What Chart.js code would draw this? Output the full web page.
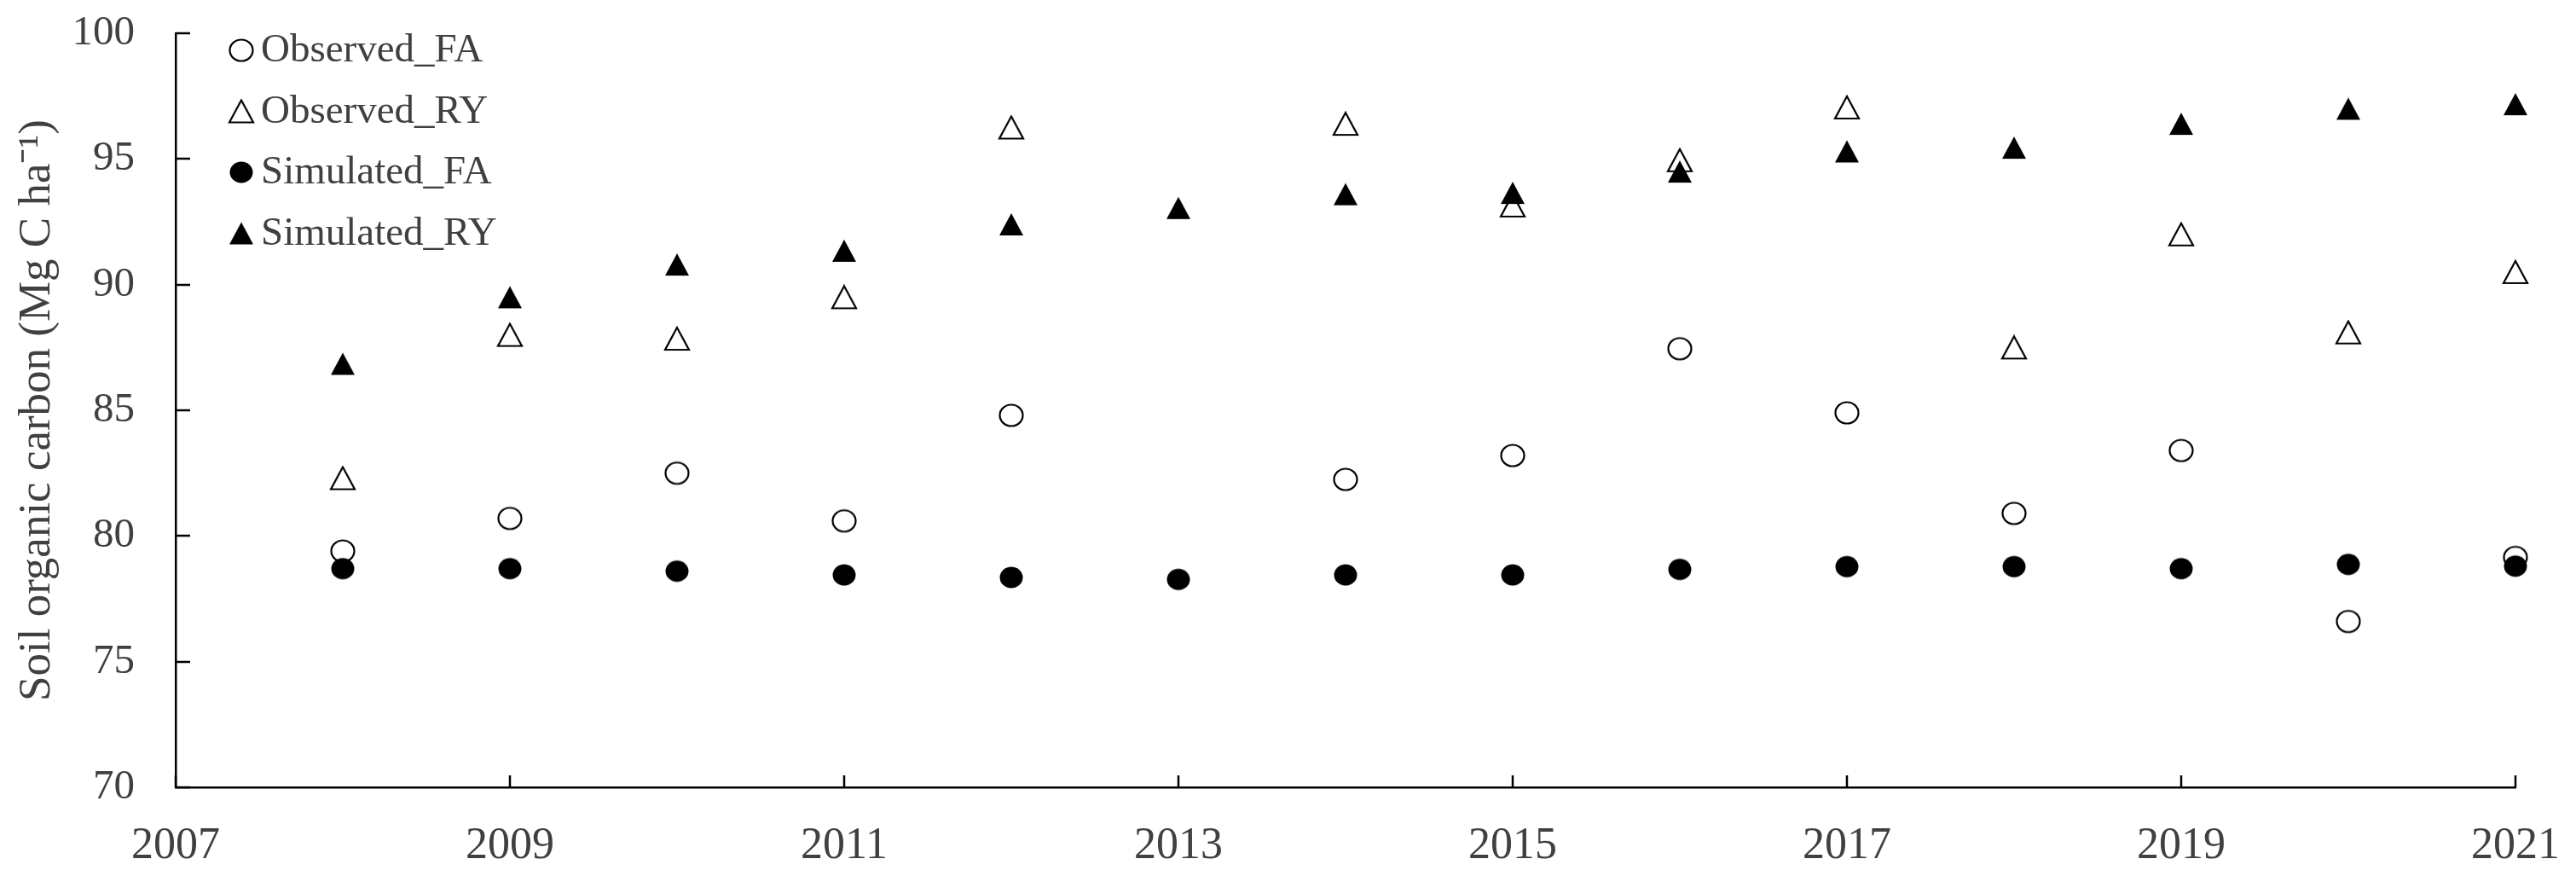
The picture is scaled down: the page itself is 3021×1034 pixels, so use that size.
<!DOCTYPE html>
<html lang="en">
  <head>
    <meta charset="UTF-8" />
    <title>Soil organic carbon</title>
    <script src="https://cdn.jsdelivr.net/npm/chart.js@4.4.1/dist/chart.umd.min.js"></script>
    <style>
      body { margin: 0; background: #ffffff; }
    </style>
  </head>
  <body>
    <canvas id="myChart" width="3021" height="1034"></canvas>
    <script>
      var years = [2008, 2009, 2010, 2011, 2012, 2013, 2014, 2015, 2016, 2017, 2018, 2019, 2020, 2021];
      var observedFA = [79.4, 80.7, 82.5, 80.6, 84.8, null, 82.25, 83.2, 87.45, 84.9, 80.9, 83.4, 76.6, 79.15];
      var observedRY = [82.3, 88.0, 87.85, 89.5, 96.25, null, 96.4, 93.15, 94.95, 97.05, 87.5, 92.0, 88.1, 90.5];
      var simulatedFA = [78.7, 78.7, 78.6, 78.45, 78.35, 78.27, 78.45, 78.45, 78.67, 78.78, 78.78, 78.7, 78.87, 78.8];
      var simulatedRY = [86.85, 89.5, 90.8, 91.35, 92.4, 93.05, 93.6, 93.65, 94.5, 95.3, 95.45, 96.4, 97.0, 97.18];

      var xTicks = [2007, 2009, 2011, 2013, 2015, 2017, 2019, 2021];
      var yTicks = [70, 75, 80, 85, 90, 95, 100];

      var textColor = "#404040";
      var serif = "'Liberation Serif', 'Times New Roman', serif";

      // marcatori disegnati a mano, centrati sul loro riquadro come in Excel
      function makeMarker(shape, filled) {
        var c = document.createElement("canvas");
        c.width = 32;
        c.height = 30;
        var g = c.getContext("2d");
        g.beginPath();
        if (shape === "circle") {
          g.ellipse(16, 15, 13.5, 12.5, 0, 0, Math.PI * 2);
        } else {
          g.moveTo(16, 2);
          g.lineTo(30, 28);
          g.lineTo(2, 28);
          g.closePath();
        }
        if (filled) {
          g.fillStyle = "#000000";
          g.fill();
        } else {
          g.fillStyle = "#ffffff";
          g.fill();
          g.lineWidth = 2.2;
          g.strokeStyle = "#000000";
          g.stroke();
        }
        return c;
      }

      function toPoints(values) {
        var out = [];
        for (var i = 0; i < years.length; i++) {
          if (values[i] !== null) out.push({ x: years[i], y: values[i] });
        }
        return out;
      }

      // tacche interne sugli assi
      var innerTicks = {
        id: "innerTicks",
        afterDraw: function (chart) {
          var ctx = chart.ctx;
          var xs = chart.scales.x;
          var ys = chart.scales.y;
          var area = chart.chartArea;
          ctx.save();
          ctx.strokeStyle = "#000000";
          ctx.lineWidth = 2.5;
          ctx.beginPath();
          xs.ticks.forEach(function (t) {
            var px = Math.round(xs.getPixelForValue(t.value));
            ctx.moveTo(px, area.bottom);
            ctx.lineTo(px, area.bottom - 14);
          });
          ys.ticks.forEach(function (t) {
            var py = Math.round(ys.getPixelForValue(t.value));
            ctx.moveTo(area.left, py);
            ctx.lineTo(area.left + 17, py);
          });
          ctx.stroke();
          ctx.restore();
        },
      };

      // legenda dentro il grafico, in alto a sinistra
      var innerLegend = {
        id: "innerLegend",
        afterDraw: function (chart) {
          var ctx = chart.ctx;
          ctx.save();
          ctx.font = "47px " + serif;
          ctx.fillStyle = textColor;
          ctx.textBaseline = "alphabetic";
          chart.data.datasets.forEach(function (ds, i) {
            var img = ds.pointStyle;
            var cy = 59 + i * 71.5;
            ctx.drawImage(img, 283 - img.width / 2, cy - img.height / 2);
            ctx.fillText(ds.label, 306, 72 + i * 71.5);
          });
          ctx.restore();
        },
      };

      var ctx = document.getElementById("myChart").getContext("2d");

      new Chart(ctx, {
        type: "scatter",
        data: {
          datasets: [
            { label: "Observed_FA", data: toPoints(observedFA), pointStyle: makeMarker("circle", false), order: 1, clip: false },
            { label: "Observed_RY", data: toPoints(observedRY), pointStyle: makeMarker("triangle", false), order: 1, clip: false },
            { label: "Simulated_FA", data: toPoints(simulatedFA), pointStyle: makeMarker("circle", true), order: 0, clip: false },
            { label: "Simulated_RY", data: toPoints(simulatedRY), pointStyle: makeMarker("triangle", true), order: 0, clip: false },
          ],
        },
        options: {
          responsive: false,
          animation: false,
          events: [],
          layout: { padding: { top: 39, right: 71, bottom: 0, left: 0 } },
          plugins: {
            legend: { display: false },
            tooltip: { enabled: false },
          },
          scales: {
            x: {
              type: "linear",
              min: xTicks[0],
              max: xTicks[xTicks.length - 1],
              afterBuildTicks: function (scale) {
                scale.ticks = xTicks.map(function (v) { return { value: v }; });
              },
              afterFit: function (scale) {
                scale.height = 111;
                scale.paddingLeft = 0;
                scale.paddingRight = 0;
              },
              grid: { display: false, drawTicks: false },
              border: { display: true, color: "#000000", width: 2.5 },
              ticks: {
                padding: 38,
                color: textColor,
                font: { family: serif, size: 52 },
                maxRotation: 0,
                callback: function (v) { return String(v); },
              },
            },
            y: {
              min: yTicks[0],
              max: yTicks[yTicks.length - 1],
              afterBuildTicks: function (scale) {
                scale.ticks = yTicks.map(function (v) { return { value: v }; });
              },
              afterFit: function (scale) {
                scale.width = 206;
                scale.paddingTop = 0;
                scale.paddingBottom = 0;
              },
              grid: { display: false, drawTicks: false },
              border: { display: true, color: "#000000", width: 2.5 },
              ticks: {
                padding: 48,
                color: textColor,
                font: { family: serif, size: 49 },
                callback: function (v) { return String(v); },
              },
              title: {
                display: true,
                text: "Soil organic carbon (Mg C ha\u207B\u00B9)",
                color: textColor,
                font: { family: serif, size: 53 },
                padding: { top: 12, bottom: 0 },
              },
            },
          },
        },
        plugins: [innerTicks, innerLegend],
      });
    </script>
  </body>
</html>
